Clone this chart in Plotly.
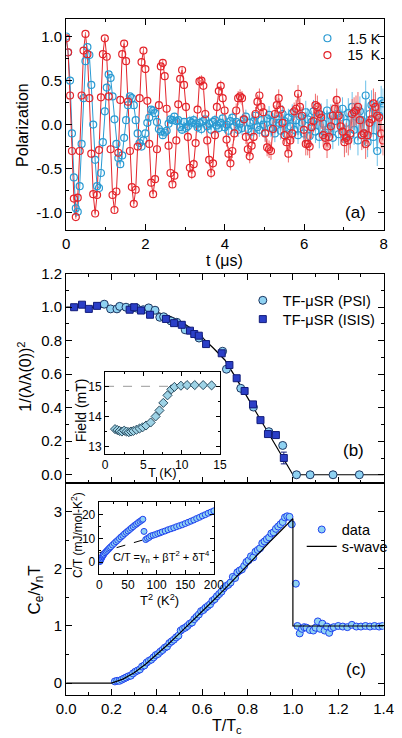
import plotly.graph_objects as go

FONT = "Liberation Sans, Arial, sans-serif"

# ---------------- panel (a): muon polarization vs time ----------------
t_step_us = 0.0487
n_bins = 165
t_us = [round(i * t_step_us, 4) for i in range(n_bins)]

pol_15K = [
    0.98, 0.82, 0.33, -0.30, -0.84, -1.05, -0.83, -0.30, 0.33, 0.84,
    1.03, 0.80, 0.30, -0.33, -0.79, -1.01, -0.80, -0.29, 0.31, 0.80,
    0.98, 0.77, 0.32, -0.28, -0.80, -0.97, -0.76, -0.32, 0.28, 0.80,
    0.92, 0.72, 0.26, -0.30, -0.71, -0.90, -0.74, -0.25, 0.30, 0.71,
    0.84, 0.63, 0.27, -0.22, -0.66, -0.79, -0.62, -0.28, 0.22, 0.66,
    0.70, 0.55, 0.18, -0.24, -0.55, -0.68, -0.58, -0.18, 0.23, 0.52,
    0.62, 0.45, 0.20, -0.14, -0.49, -0.56, -0.45, -0.21, 0.17, 0.49,
    0.50, 0.44, 0.12, -0.18, -0.40, -0.55, -0.44, -0.12, 0.20, 0.38,
    0.44, 0.30, 0.16, -0.17, -0.33, -0.44, -0.30, -0.10, 0.16, 0.30,
    0.32, 0.30, 0.06, -0.14, -0.28, -0.36, -0.24, -0.14, 0.12, 0.26,
    0.33, 0.20, 0.14, -0.10, -0.26, -0.28, -0.30, -0.05, 0.12, 0.22,
    0.30, 0.17, 0.02, -0.12, -0.20, -0.33, -0.18, -0.10, 0.15, 0.18,
    0.35, 0.20, 0.10, -0.06, -0.22, -0.22, -0.25, -0.03, 0.04, 0.22,
    0.20, 0.12, 0.08, -0.12, -0.15, -0.25, -0.14, -0.02, 0.10, 0.18,
    0.28, 0.10, -0.02, -0.08, -0.20, -0.15, -0.18, -0.10, 0.12, 0.14,
    0.16, 0.20, 0.05, -0.12, -0.10, -0.22, -0.12, 0.02, 0.06, 0.24,
    0.20, 0.10, 0.08, -0.10, -0.18,
]

pol_1p5K = [
    1.00, 0.82, 0.50, -0.10, -0.60, -0.95, -0.99, -0.70, -0.22, 0.30,
    0.72, 0.88, 0.79, 0.45, 0.00, -0.40, -0.70, -0.72, -0.55, -0.20,
    0.15, 0.42, 0.57, 0.53, 0.32, 0.06, -0.22, -0.38, -0.45, -0.35,
    -0.15, 0.05, 0.22, 0.32, 0.30, 0.22, 0.05, -0.10, -0.21, -0.25,
    -0.18, -0.10, 0.02, 0.08, 0.17, 0.16, 0.13, 0.03, -0.05, -0.08,
    -0.12, -0.09, -0.07, 0.01, 0.06, 0.05, 0.09, 0.04, 0.05, -0.03,
    -0.06,
    0.03, -0.04, -0.02, 0.04, 0.02, 0.05, 0.01, -0.03, 0.02, -0.05,
    0.04, 0.06, -0.02, 0.01, -0.06, 0.03, 0.05, -0.01, -0.04, 0.02,
    0.07, -0.03, 0.00, -0.07, 0.04, 0.08, -0.02, 0.03, -0.06, 0.01,
    -0.04, 0.06, 0.09, -0.05, 0.02, -0.08, 0.04, 0.10, -0.03, -0.06,
    0.05, 0.00, -0.09, 0.07, 0.11, -0.04, 0.03, -0.10, 0.06, 0.02,
    -0.07, 0.12, 0.04, -0.11, 0.08, -0.02, 0.13, -0.06, 0.05, -0.12,
    0.09, 0.02, -0.10, 0.14, 0.06, -0.13, 0.03, 0.15, -0.08, 0.07,
    -0.14, 0.11, 0.01, -0.09, 0.16, -0.05, 0.10, -0.15, 0.04, 0.12,
    -0.11, 0.08, 0.18, -0.16, 0.02, 0.13, -0.12, 0.20, -0.06, 0.09,
    -0.18, 0.15, 0.05, -0.10, 0.33, -0.20, 0.12, 0.22, -0.14, 0.18,
    -0.30, 0.10, 0.27, 0.24,
]

err_by_us = [0.02, 0.03, 0.04, 0.06, 0.08, 0.10, 0.13, 0.17]
err_pol = [err_by_us[min(int(t), 7)] for t in t_us]

# ---------------- panel (b): superfluid density ----------------
psi_T = [0.168, 0.196, 0.224, 0.236, 0.264, 0.29, 0.31, 0.34, 0.364, 0.392,
         0.413, 0.43, 0.462, 0.488, 0.525, 0.586, 0.69, 0.707, 0.77, 0.826,
         0.894, 0.955, 1.016, 1.076, 1.177, 1.293]
psi_rho = [1.018, 0.99, 0.99, 1.005, 1.0, 0.995, 0.995, 0.985, 0.996, 0.982,
           0.94, 0.943, 0.918, 0.91, 0.865, 0.816, 0.737, 0.63, 0.516, 0.404,
           0.257, 0.175, 0.0, 0.0, 0.0, 0.0]

isis_T = [0.035, 0.07, 0.1, 0.136, 0.28, 0.30, 0.33, 0.37, 0.44, 0.476,
          0.51, 0.546, 0.565, 0.585, 0.617, 0.686, 0.72, 0.752, 0.787, 0.824,
          0.857, 0.89, 0.925, 0.96]
isis_rho = [1.0, 1.015, 0.99, 1.008, 0.985, 1.0, 0.98, 0.955, 0.93, 0.905,
            0.895, 0.86, 0.84, 0.83, 0.78, 0.725, 0.655, 0.576, 0.5, 0.42,
            0.326, 0.243, 0.237, 0.1]
isis_err = [0] * 23 + [0.035]

fit_b_T = [0, 0.1, 0.2, 0.3, 0.4, 0.45, 0.5, 0.55, 0.6, 0.65, 0.7, 0.75,
           0.8, 0.85, 0.9, 0.95, 1.0, 1.4]
fit_b_rho = [1.0, 1.0, 0.999, 0.993, 0.97, 0.95, 0.92, 0.875, 0.82, 0.755,
             0.685, 0.575, 0.46, 0.345, 0.23, 0.115, 0.0, 0.0]

# inset (b): internal field vs temperature
field_T = [1.3, 1.6, 1.9, 2.2, 2.5, 2.8, 3.1, 3.4, 3.7, 4.1, 4.5, 4.9, 5.35,
           5.95, 6.6, 7.1, 7.6, 8.15, 8.65, 9.05, 9.9, 10.7, 11.7, 12.8, 13.9]
field_mT = [13.58, 13.55, 13.52, 13.5, 13.53, 13.5, 13.48, 13.5, 13.52, 13.56,
            13.6, 13.64, 13.7, 13.8, 14.0, 14.2, 14.45, 14.7, 14.9, 14.98,
            15.02, 15.04, 15.04, 15.04, 15.03]
applied_T = [0, 9]
applied_mT = [15.0, 15.0]

# ---------------- panel (c): specific heat ----------------
ce_x = [0.215, 0.225, 0.235, 0.245, 0.255, 0.265, 0.275, 0.285, 0.295, 0.305,
        0.315, 0.325, 0.335, 0.345, 0.355, 0.365, 0.375, 0.385, 0.395, 0.405,
        0.415, 0.425, 0.435, 0.445, 0.455, 0.465, 0.475, 0.485, 0.495, 0.505,
        0.515, 0.525, 0.535, 0.545, 0.555, 0.565, 0.575, 0.585, 0.595, 0.605,
        0.615, 0.625, 0.635, 0.645, 0.655, 0.665, 0.675, 0.685, 0.695, 0.705,
        0.715, 0.725, 0.735, 0.745, 0.755, 0.765, 0.775, 0.785, 0.795, 0.805,
        0.815, 0.825, 0.835, 0.845, 0.855, 0.865, 0.875, 0.885, 0.895, 0.905,
        0.915, 0.925, 0.935, 0.945, 0.955, 0.965, 0.975, 0.985, 0.995, 1.013,
        1.02, 1.03, 1.04, 1.05, 1.06, 1.075, 1.09, 1.10, 1.11, 1.12,
        1.13, 1.14, 1.15, 1.16, 1.17, 1.18, 1.20, 1.22, 1.24, 1.26,
        1.28, 1.30, 1.32, 1.34, 1.36, 1.38, 1.395]
ce_y = [0.03, 0.04, 0.04, 0.06, 0.08, 0.10, 0.12, 0.13, 0.17, 0.20,
        0.22, 0.24, 0.29, 0.31, 0.36, 0.39, 0.41, 0.45, 0.49, 0.51,
        0.55, 0.58, 0.62, 0.64, 0.70, 0.73, 0.76, 0.80, 0.83, 0.92,
        0.95, 0.97, 1.00, 1.04, 1.06, 1.12, 1.16, 1.20, 1.26, 1.28,
        1.32, 1.35, 1.38, 1.44, 1.47, 1.52, 1.56, 1.60, 1.66, 1.70,
        1.72, 1.76, 1.86, 1.84, 1.94, 1.97, 1.99, 2.05, 2.12, 2.15,
        2.22, 2.20, 2.30, 2.33, 2.36, 2.45, 2.48, 2.52, 2.55, 2.62,
        2.64, 2.70, 2.74, 2.78, 2.82, 2.90, 2.92, 2.91, 2.78, 1.74,
        1.0, 0.87, 0.95, 0.98, 0.97, 0.93, 0.92, 0.97, 1.08, 0.95,
        1.04, 0.92, 0.99, 0.88, 0.96, 0.98, 1.0, 0.99, 0.98, 1.02,
        0.99, 0.99, 1.0, 0.99, 1.0, 0.99, 1.0]

swave_x = [0, 0.2, 0.25, 0.3, 0.35, 0.4, 0.45, 0.5, 0.55, 0.6, 0.65, 0.7,
           0.75, 0.8, 0.85, 0.9, 0.95, 1.0, 1.0, 1.4]
swave_y = [0, 0, 0.07, 0.18, 0.33, 0.5, 0.68, 0.87, 1.06, 1.25, 1.45, 1.65,
           1.86, 2.07, 2.28, 2.48, 2.68, 2.88, 1.0, 1.0]

# inset (c): C/T vs T^2
t2_sc = [1, 2, 3, 4, 5, 6, 7, 8, 10, 12, 14, 16, 18, 20, 23, 26, 29, 32, 35,
         38, 41, 44, 47, 50, 53, 56, 59, 62, 65, 68, 71, 74, 76]
ct_sc = [0.3, 0.8, 1.3, 1.8, 2.3, 2.7, 3.1, 3.4, 4.0, 4.5, 5.0, 5.5, 6.0, 6.5,
         7.2, 7.9, 8.6, 9.2, 9.9, 10.6, 11.2, 11.9, 12.5, 13.1, 13.7, 14.3,
         14.9, 15.5, 16.0, 16.6, 17.1, 17.6, 18.0]
t2_n = [78, 81, 84, 87, 90, 94, 98, 102, 106, 110, 115, 120, 125, 130, 135,
        140, 145, 150, 155, 160, 165, 170, 175, 180, 185, 190, 195, 200]
ct_n = [12.9, 9.5, 10.0, 10.4, 11.0, 11.3, 11.6, 12.0, 12.3, 12.7, 13.1, 13.6,
        14.0, 14.4, 14.9, 15.3, 15.7, 16.2, 16.7, 17.2, 17.7, 18.3, 18.8, 19.4,
        19.9, 20.5, 21.0, 21.5]
t2_fit = [0, 20, 40, 60, 80, 120, 160, 200]
ct_fit = [4.0, 5.4, 6.8, 8.2, 9.6, 13.0, 16.9, 21.4]

BLUE_A = "#2a9ad2"
RED_A = "#e3242b"
LIGHT = "#8fd2f2"
EDGE_DARK = "#1b3560"
ISIS_FILL = "#2b3fc7"
ISIS_EDGE = "#121c7a"
C_EDGE = "#2142f0"

fig = go.Figure()

# (a): fit-like lines through the points, then the markers with error bars
for yv, col in [(pol_1p5K, BLUE_A), (pol_15K, RED_A)]:
    fig.add_trace(go.Scatter(
        x=t_us, y=yv, mode="lines", showlegend=False, hoverinfo="skip",
        xaxis="x", yaxis="y", line=dict(color=col, width=1)))
fig.add_trace(go.Scatter(
    x=t_us, y=pol_1p5K, mode="markers", name="1.5 K",
    legend="legend", xaxis="x", yaxis="y",
    marker=dict(symbol="circle-open", size=7, color=BLUE_A, line=dict(width=1.2)),
    error_y=dict(type="data", array=err_pol, thickness=1, width=0, color="#6cc0e8")))
fig.add_trace(go.Scatter(
    x=t_us, y=pol_15K, mode="markers", name="15\u00a0\u00a0K",
    legend="legend4", xaxis="x", yaxis="y",
    marker=dict(symbol="circle-open", size=7, color=RED_A, line=dict(width=1.2)),
    error_y=dict(type="data", array=err_pol, thickness=1, width=0, color="#f06a6a")))

# (b)
fig.add_trace(go.Scatter(
    x=fit_b_T, y=fit_b_rho, mode="lines", showlegend=False,
    xaxis="x2", yaxis="y2", line=dict(color="black", width=1.2)))
fig.add_trace(go.Scatter(
    x=psi_T, y=psi_rho, mode="markers", name="TF-μSR (PSI)",
    legend="legend2", xaxis="x2", yaxis="y2",
    marker=dict(symbol="circle", size=8, color=LIGHT,
                line=dict(color=EDGE_DARK, width=1))))
fig.add_trace(go.Scatter(
    x=isis_T, y=isis_rho, mode="markers", name="TF-μSR (ISIS)",
    legend="legend5", xaxis="x2", yaxis="y2",
    error_y=dict(type="data", array=isis_err, thickness=1, width=3, color=ISIS_EDGE),
    marker=dict(symbol="square", size=7, color=ISIS_FILL,
                line=dict(color=ISIS_EDGE, width=1))))

# inset (b)
fig.add_trace(go.Scatter(
    x=applied_T, y=applied_mT, mode="lines", showlegend=False,
    xaxis="x4", yaxis="y4", line=dict(color="#999999", width=1, dash="dash")))
fig.add_trace(go.Scatter(
    x=field_T, y=field_mT, mode="markers", showlegend=False,
    xaxis="x4", yaxis="y4",
    marker=dict(symbol="diamond", size=7, color="#9ed3e6",
                line=dict(color="#284a5e", width=1))))

# (c)
fig.add_trace(go.Scatter(
    x=ce_x, y=ce_y, mode="markers", name="data",
    legend="legend3", xaxis="x3", yaxis="y3",
    marker=dict(symbol="circle", size=7, color=LIGHT,
                line=dict(color=C_EDGE, width=1))))
fig.add_trace(go.Scatter(
    x=swave_x, y=swave_y, mode="lines", name="s-wave",
    legend="legend6", xaxis="x3", yaxis="y3",
    line=dict(color="black", width=1.2)))

# inset (c)
fig.add_trace(go.Scatter(
    x=t2_fit, y=ct_fit, mode="lines", showlegend=False,
    xaxis="x5", yaxis="y5", line=dict(color="black", width=1, dash="dash")))
fig.add_trace(go.Scatter(
    x=t2_sc + t2_n, y=ct_sc + ct_n, mode="markers", showlegend=False,
    xaxis="x5", yaxis="y5",
    marker=dict(symbol="circle", size=6, color=LIGHT,
                line=dict(color=C_EDGE, width=1))))


def ax(**kw):
    base = dict(showline=True, linecolor="black", linewidth=1, mirror="ticks",
                ticks="inside", ticklen=6, tickwidth=1, tickcolor="black",
                showgrid=False, zeroline=False,
                tickfont=dict(family=FONT, size=15, color="black"))
    base.update(kw)
    return base


def leg(xpx, ypx, size):
    return dict(x=xpx / 402, y=1 - ypx / 738, xanchor="left", yanchor="middle",
                bgcolor="rgba(0,0,0,0)", font=dict(family=FONT, size=size),
                tracegroupgap=0)


XD = [0.147, 0.978]
INSET_TF = dict(family=FONT, size=12, color="black")
fig.update_layout(
    width=402, height=738, margin=dict(l=0, r=0, t=0, b=0),
    paper_bgcolor="white", plot_bgcolor="white",
    font=dict(family=FONT, color="black"),
    xaxis=ax(domain=XD, anchor="y", range=[0, 8], tickvals=[0, 2, 4, 6, 8],
             minor=dict(dtick=1, ticks="inside", ticklen=3, tickcolor="black")),
    yaxis=ax(domain=[0.6965, 0.9864], anchor="x", range=[-1.2, 1.2],
             tickvals=[-1, -0.5, 0, 0.5, 1],
             ticktext=["-1.0", "-0.5", "0.0", "0.5", "1.0"],
             minor=dict(dtick=0.25, ticks="inside", ticklen=3, tickcolor="black")),
    xaxis2=ax(domain=XD, anchor="y2", range=[0, 1.4], dtick=0.2,
              showticklabels=False,
              minor=dict(dtick=0.1, ticks="inside", ticklen=3, tickcolor="black")),
    yaxis2=ax(domain=[0.3496, 0.6369], anchor="x2", range=[-0.05, 1.2],
              tickvals=[0, 0.2, 0.4, 0.6, 0.8, 1.0, 1.2],
              ticktext=["0.0", "0.2", "0.4", "0.6", "0.8", "1.0", "1.2"],
              minor=dict(dtick=0.1, ticks="inside", ticklen=3, tickcolor="black")),
    xaxis3=ax(domain=XD, anchor="y3", range=[0, 1.4], mirror=True,
              tickvals=[0, 0.2, 0.4, 0.6, 0.8, 1.0, 1.2, 1.4],
              ticktext=["0.0", "0.2", "0.4", "0.6", "0.8", "1.0", "1.2", "1.4"],
              minor=dict(dtick=0.1, ticks="inside", ticklen=3, tickcolor="black")),
    yaxis3=ax(domain=[0.0596, 0.3496], anchor="x3", range=[-0.2, 3.5],
              tickvals=[0, 1, 2, 3],
              minor=dict(dtick=0.5, ticks="inside", ticklen=3, tickcolor="black")),
    xaxis4=ax(domain=[0.2488, 0.5498], anchor="y4", range=[0, 15],
              tickvals=[0, 5, 10, 15], ticklen=4, tickfont=INSET_TF,
              minor=dict(dtick=2.5, ticks="inside", ticklen=2, tickcolor="black")),
    yaxis4=ax(domain=[0.3902, 0.5027], anchor="x4", range=[12.77, 15.49],
              tickvals=[13, 14, 15], ticklen=4, tickfont=INSET_TF,
              minor=dict(dtick=0.5, ticks="inside", ticklen=2, tickcolor="black")),
    xaxis5=ax(domain=[0.2321, 0.5348], anchor="y5", range=[-1.2, 200.8],
              tickvals=[0, 50, 100, 150, 200], ticklen=4, tickfont=INSET_TF,
              minor=dict(dtick=25, ticks="inside", ticklen=2, tickcolor="black")),
    yaxis5=ax(domain=[0.2253, 0.3234], anchor="x5", range=[-4.8, 25.1],
              tickvals=[0, 10, 20], ticklen=4, tickfont=INSET_TF,
              minor=dict(dtick=5, ticks="inside", ticklen=2, tickcolor="black")),
    legend=leg(313, 30, 14),
    legend4=leg(313, 47, 14),
    legend2=leg(245, 295, 14.5),
    legend5=leg(245, 314, 14.5),
    legend3=leg(307, 527, 14.5),
    legend6=leg(307, 544, 14.5),
)


def px_ann(text, xpx, ypx, size, angle=0, xanchor="center"):
    fig.add_annotation(text=text, x=xpx / 402, y=1 - ypx / 738,
                       xref="paper", yref="paper", showarrow=False,
                       textangle=angle, xanchor=xanchor, yanchor="middle",
                       font=dict(family=FONT, size=size, color="black"))


px_ann("Polarization", 13, 117, 16, angle=-90)
px_ann("t (μs)", 226, 255, 16)
px_ann("(a)", 364, 206, 17)
px_ann("1/(λ/λ(0))<sup>2</sup>", 16, 372, 16, angle=-90)
px_ann("(b)", 362, 447, 17)
px_ann("Field (mT)", 75, 406, 14, angle=-90)
px_ann("T (K)", 161, 469, 13)
px_ann("C<sub>e</sub>/γ<sub>n</sub>T", 27, 588, 17, angle=-90)
px_ann("T/T<sub>c</sub>", 228, 726, 16)
px_ann("(c)", 364, 669, 17)
px_ann("C/T (mJ/mol-K<sup>2</sup>)", 70, 533, 12, angle=-90)
px_ann("T<sup>2</sup> (K<sup>2</sup>)", 157, 598, 13)
px_ann("C/T =γ<sub>n</sub> + βT<sup>2</sup> + δT<sup>4</sup>", 213, 555, 11,
       xanchor="right")

fig.write_html("out.html")
